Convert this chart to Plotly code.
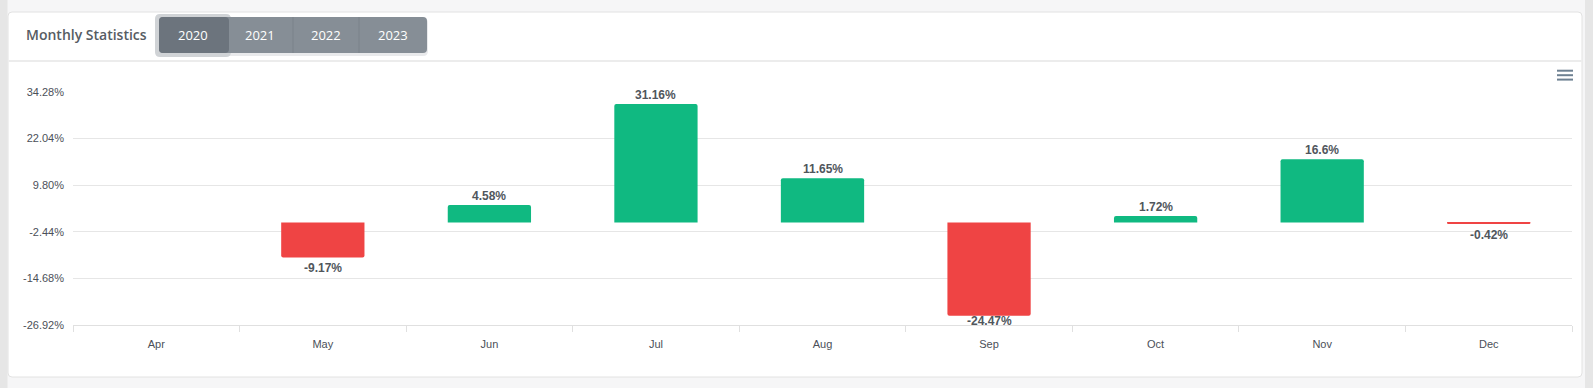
import plotly.graph_objects as go

# ---- data ----
months = ["Apr", "May", "Jun", "Jul", "Aug", "Sep", "Oct", "Nov", "Dec"]
returns_2020 = [None, -9.17, 4.58, 31.16, 11.65, -24.47, 1.72, 16.6, -0.42]
y_ticks = [-26.92, -14.68, -2.44, 9.80, 22.04, 34.28]
y_tick_labels = [f"{v:.2f}%" for v in y_ticks]
years = ["2020", "2021", "2022", "2023"]

GREEN = "#10b981"
RED = "#ef4444"

W, H = 1593, 388
L, R, T, B = 73, 21, 92, 63
PW, PH = W - L - R, H - T - B
Y_MIN, Y_MAX = y_ticks[0], y_ticks[-1]
PX_PER_UNIT = PH / (Y_MAX - Y_MIN)


def px(x):
    return (x - L) / PW


def py(y):
    return (H - B - y) / PH


def rrect(x0, y0, x1, y1, r):
    rx, ry = r / PW, r / PH
    a0, a1 = px(x0), px(x1)
    b0, b1 = py(y0), py(y1)
    return (f"M{a0+rx},{b0} L{a1-rx},{b0} Q{a1},{b0} {a1},{b0-ry} "
            f"L{a1},{b1+ry} Q{a1},{b1} {a1-rx},{b1} L{a0+rx},{b1} "
            f"Q{a0},{b1} {a0},{b1+ry} L{a0},{b0-ry} Q{a0},{b0} {a0+rx},{b0} Z")


colors = [RED if (v is not None and v < 0) else GREEN for v in returns_2020]

fig = go.Figure()
fig.add_trace(go.Bar(
    x=months, y=returns_2020,
    marker=dict(color=colors, line=dict(width=0), cornerradius=2),
    hovertemplate="%{x}: %{y}%<extra></extra>",
))

label_font = dict(family="Liberation Sans, Arial", size=12, color="#50565c", weight="bold")
annotations = []
GAP, LABEL_H = 2, 14
for m, v in zip(months, returns_2020):
    if v is None:
        continue
    if v >= 0:
        annotations.append(dict(x=m, y=v, xref="x", yref="y", text=f"{v}%", showarrow=False,
                                yanchor="bottom", yshift=0, font=label_font))
    else:
        room = (v - Y_MIN) * PX_PER_UNIT
        if room >= GAP + LABEL_H:
            annotations.append(dict(x=m, y=v, xref="x", yref="y", text=f"{v}%", showarrow=False,
                                    yanchor="top", yshift=-GAP, font=label_font))
        else:
            annotations.append(dict(x=m, y=Y_MIN, xref="x", yref="y", text=f"{v}%", showarrow=False,
                                    yanchor="bottom", yshift=-5, font=label_font))

shapes = []
shapes.append(dict(type="rect", xref="paper", yref="paper", x0=px(0), x1=px(7.5), y0=py(388), y1=py(0),
                   fillcolor="#e6e6e6", line=dict(width=0), layer="below"))
shapes.append(dict(type="rect", xref="paper", yref="paper", x0=px(1585), x1=px(1593), y0=py(388), y1=py(0),
                   fillcolor="#e6e6e6", line=dict(width=0), layer="below"))
shapes.append(dict(type="path", xref="paper", yref="paper", path=rrect(8, 12, 1582, 377, 4),
                   fillcolor="#ffffff", line=dict(color="#e2e2e2", width=1), layer="below"))
shapes.append(dict(type="line", xref="paper", yref="paper", x0=px(8.5), x1=px(1581.5), y0=py(61), y1=py(61),
                   line=dict(color="#ececec", width=2), layer="below"))
shapes.append(dict(type="path", xref="paper", yref="paper", path=rrect(158, 18, 428, 56, 5),
                   fillcolor="#e9eaec", line=dict(width=0), layer="below"))
shapes.append(dict(type="path", xref="paper", yref="paper", path=rrect(155, 14, 231, 57, 5),
                   fillcolor="#d0d3d6", line=dict(width=0), layer="below"))
btn_edges = [159, 227, 293, 359, 427]
shapes.append(dict(type="path", xref="paper", yref="paper", path=rrect(159, 17, 427, 53, 4),
                   fillcolor="#868e96", line=dict(width=0), layer="below"))
shapes.append(dict(type="path", xref="paper", yref="paper", path=rrect(159, 17, 229, 53, 4),
                   fillcolor="#6c747d", line=dict(width=0), layer="below"))
for e in btn_edges[2:4]:
    shapes.append(dict(type="line", xref="paper", yref="paper", x0=px(e), x1=px(e), y0=py(17), y1=py(53),
                       line=dict(color="#7b828a", width=1), layer="below"))
for yy in (70.7, 75.2, 79.6):
    shapes.append(dict(type="line", xref="paper", yref="paper", x0=px(1557), x1=px(1573), y0=py(yy), y1=py(yy),
                       line=dict(color="#6e8192", width=2)))

annotations.append(dict(xref="paper", yref="paper", x=px(24), y=py(35), xanchor="left", yanchor="middle",
                        text="Monthly Statistics", showarrow=False,
                        font=dict(family="Open Sans", size=14, color="#565c63", weight=600)))
for i, yr in enumerate(years):
    cx = (btn_edges[i] + btn_edges[i + 1]) / 2
    annotations.append(dict(xref="paper", yref="paper", x=px(cx), y=py(35), xanchor="center", yanchor="middle",
                            text=yr, showarrow=False,
                            font=dict(family="Open Sans", size=13, color="#ffffff")))

fig.update_layout(
    width=W, height=H, margin=dict(l=L, r=R, t=T, b=B, pad=0),
    paper_bgcolor="#f6f6f7", plot_bgcolor="rgba(0,0,0,0)",
    showlegend=False, bargap=0.5,
    shapes=shapes, annotations=annotations,
    xaxis=dict(showgrid=False, showline=True, linecolor="#e0e0e0", linewidth=1,
               ticks="outside", tickson="boundaries", ticklen=6, tickcolor="#e0e0e0",
               tickfont=dict(family="Liberation Sans, Arial", size=11, color="#4b5058"),
               ticklabelstandoff=9, fixedrange=True),
    yaxis=dict(range=[Y_MIN, Y_MAX], tickvals=y_ticks, ticktext=y_tick_labels,
               showgrid=True, gridcolor="#e6e6e6", gridwidth=1, zeroline=False, showline=False,
               tickfont=dict(family="Liberation Sans, Arial", size=11, color="#4b5058"),
               ticklabelstandoff=8, fixedrange=True),
    font=dict(family="Liberation Sans, Arial"),
)

fig.write_html("out.html", config={"displayModeBar": False},
               post_script="document.body.style.margin='0';document.body.style.overflow='hidden';")
